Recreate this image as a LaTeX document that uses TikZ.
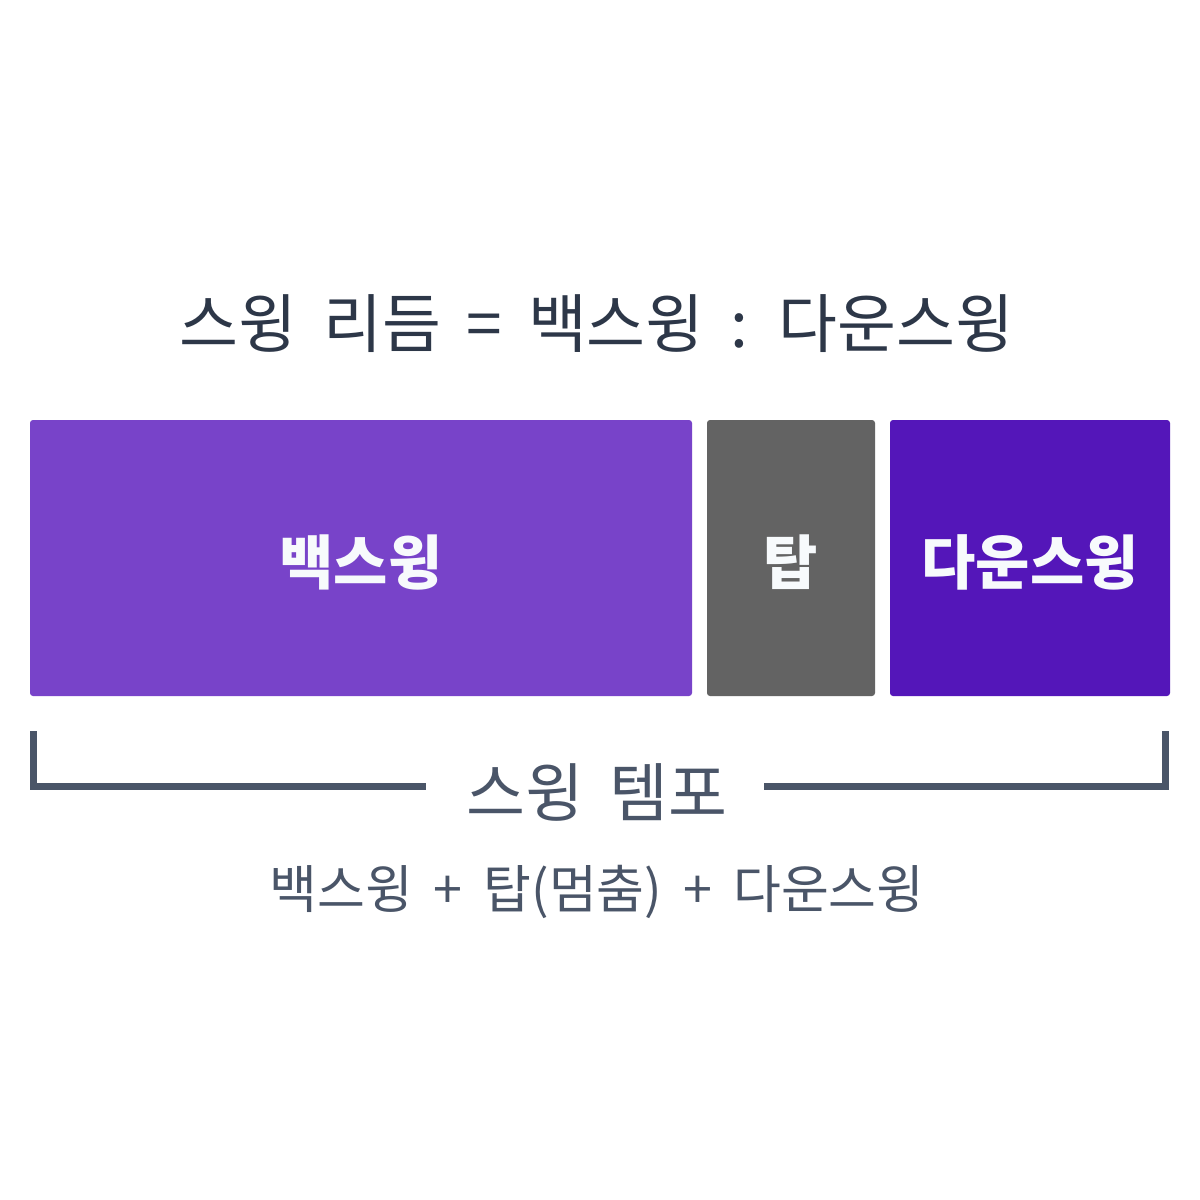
\documentclass[tikz,border=0pt]{standalone}
\usepackage{fontspec}
\setmainfont{Noto Sans CJK KR}[WordSpace=1.8]
\usepackage{tikz}
\usetikzlibrary{positioning}
\definecolor{backcol}{HTML}{7843C9}
\definecolor{topcol}{HTML}{636363}
\definecolor{downcol}{HTML}{5416B9}
\definecolor{titlecol}{HTML}{2D3748}
\definecolor{subcol}{HTML}{4A5568}
\definecolor{labelcol}{HTML}{F7FAFC}
\tikzstyle{phase}=[
  rectangle,rounded corners=1.5pt,inner sep=0pt,outer sep=0pt,
  minimum height=138pt,text height=26pt,text depth=0pt,
  text=labelcol,font=\bfseries\fontsize{29.5pt}{34pt}\selectfont]
\tikzstyle{brace}=[draw=subcol,line width=3.5pt,line join=miter]

\begin{document}
\begin{tikzpicture}
  [x=0.5pt,y=-0.5pt]
\tikzset{txt/.style={inner sep=0pt}}
\useasboundingbox[fill=white] (0,0) rectangle (1200,1200);
\node[txt,text=titlecol,font=\fontsize{32pt}{38pt}\selectfont] (title)
  at (597,324) {스윙 리듬 = 백스윙 : 다운스윙};
\node[phase,fill=backcol,minimum width=331pt,anchor=north west] (back)
  at (30,420) {백스윙};
\node[phase,fill=topcol,minimum width=84pt,anchor=north west] (top)
  at (707,420) {탑};
\node[phase,fill=downcol,minimum width=140pt,anchor=north west] (down)
  at (890,420) {다운스윙};
\node[txt,text=subcol,font=\fontsize{32pt}{38pt}\selectfont] (tempo)
  at (597,792) {스윙 템포};
\node[txt,text=subcol,font=\fontsize{26pt}{31pt}\selectfont] (sum)
  at (597,892) {백스윙 + 탑(멈춤) + 다운스윙};
\coordinate (bl) at (33,731);
\coordinate (bml) at (426,786);
\coordinate (bmr) at (764,786);
\coordinate (br) at (1165,731);
\draw[brace] (bl) |- (bml);
\draw[brace] (bmr) -| (br);
\end{tikzpicture}
\end{document}
